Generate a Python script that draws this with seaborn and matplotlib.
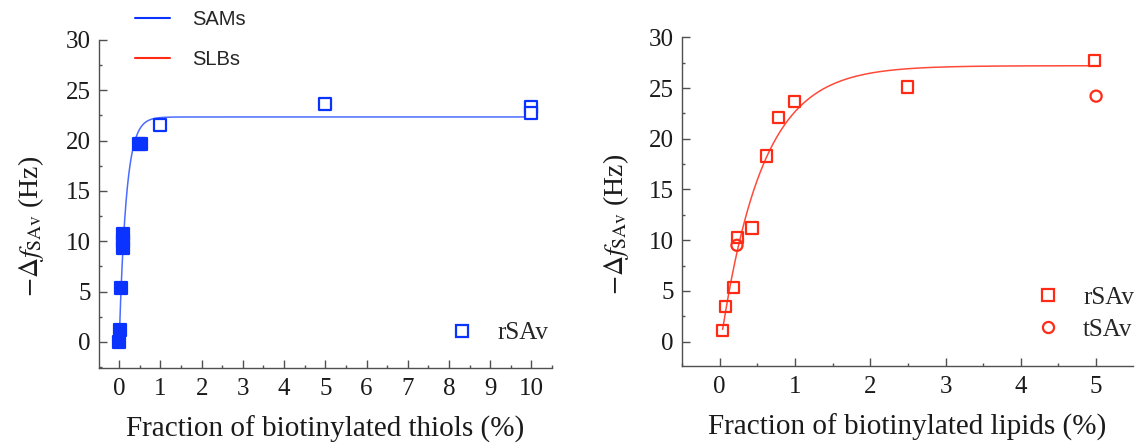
import numpy as np
import pandas as pd
import matplotlib
matplotlib.use("Agg")
import matplotlib.pyplot as plt
import seaborn as sns
from matplotlib.lines import Line2D
from matplotlib.ticker import MultipleLocator

# ---------------- data ----------------
# SAMs, rSAv (left panel)
sam_open_x = [1.0, 5.0, 10.0, 10.0]
sam_open_y = [21.6, 23.6, 23.3, 22.7]
sam_dense_x = [0.0, 0.02, 0.04, 0.09, 0.09, 0.09, 0.47, 0.52]
sam_dense_y = [0.0, 1.2, 5.4, 9.3, 10.0, 10.7, 19.7, 19.7]
# SLBs (right panel)
slb_r_x = [0.04, 0.08, 0.18, 0.24, 0.43, 0.62, 0.78, 0.99, 2.49, 4.98]
slb_r_y = [1.1, 3.5, 5.3, 10.3, 11.2, 18.3, 22.1, 23.7, 25.1, 27.7]
slb_t_x = [0.23, 5.0]
slb_t_y = [9.5, 24.2]
# fitted-curve parameters (exponential saturation)
sam_fit_plateau, sam_fit_scale, sam_fit_range = 22.35, 0.17, (0.0, 10.0)
slb_fit_plateau, slb_fit_scale, slb_fit_onset, slb_fit_range = 27.2, 0.55, 0.015, (0.04, 5.0)

legend_lines = ["SAMs", "SLBs"]
legend_left = ["rSAv"]
legend_right = ["rSAv", "tSAv"]
xlabel_left = "Fraction of biotinylated thiols (%)"
xlabel_right = "Fraction of biotinylated lipids (%)"
ylabel = r"$-\Delta f_{\mathrm{SAv}}$ (Hz)"

# ---------------- style ----------------
sns.set_style("ticks")
plt.rcParams["font.family"] = ["Liberation Serif", "DejaVu Serif"]
plt.rcParams["mathtext.fontset"] = "stix"

blue_m, blue_l = "#0b33ff", "#4a6cff"
red_m, red_l = "#ff2b14", "#ff4a3a"
spine_c = "#505050"
txt_c = "#1a1a1a"
W, H = 1140, 447

fig = plt.figure(figsize=(W / 100, H / 100), dpi=100)
axL = fig.add_axes([99 / W, (H - 368) / H, (552 - 99) / W, (368 - 40) / H])
axR = fig.add_axes([682 / W, (H - 366) / H, (1133 - 682) / W, (366 - 37.3) / H])

ms_area = 64
lw_m = 1.6

# left panel
xs = np.linspace(*sam_fit_range, 600)
sns.lineplot(x=xs, y=sam_fit_plateau * (1 - np.exp(-xs / sam_fit_scale)),
             ax=axL, color=blue_l, lw=1.1, zorder=1)
sns.scatterplot(x=sam_dense_x, y=sam_dense_y, ax=axL, marker="s", s=ms_area,
                facecolor=blue_m, edgecolor=blue_m, linewidth=lw_m, zorder=3)
sns.scatterplot(x=sam_open_x, y=sam_open_y, ax=axL, marker="s", s=ms_area,
                facecolor="white", edgecolor=blue_m, linewidth=lw_m, zorder=3)

# right panel
xr = np.linspace(*slb_fit_range, 600)
sns.lineplot(x=xr, y=slb_fit_plateau * (1 - np.exp(-(xr - slb_fit_onset) / slb_fit_scale)),
             ax=axR, color=red_l, lw=1.1, zorder=1)
sns.scatterplot(x=slb_r_x, y=slb_r_y, ax=axR, marker="s", s=ms_area,
                facecolor="none", edgecolor=red_m, linewidth=lw_m, zorder=3)
sns.scatterplot(x=slb_t_x, y=slb_t_y, ax=axR, marker="o", s=ms_area,
                facecolor="none", edgecolor=red_m, linewidth=lw_m, zorder=3)

for ax, xl, xlabel in [(axL, (-0.49, 10.5), xlabel_left),
                       (axR, (-0.5, 5.49), xlabel_right)]:
    ax.set_xlim(*xl)
    ax.xaxis.set_major_locator(MultipleLocator(1))
    ax.xaxis.set_minor_locator(MultipleLocator(0.5))
    ax.yaxis.set_major_locator(MultipleLocator(5))
    ax.yaxis.set_minor_locator(MultipleLocator(2.5))
    sns.despine(ax=ax)
    for s in ["left", "bottom"]:
        ax.spines[s].set_color(spine_c)
        ax.spines[s].set_linewidth(1.0)
    ax.tick_params(which="major", direction="in", length=5.5, width=1.0,
                   color=spine_c, labelsize=18, labelcolor=txt_c)
    ax.tick_params(which="minor", direction="in", length=2.5, width=1.0, color=spine_c)
    ax.tick_params(axis="x", which="major", pad=7)
    ax.tick_params(axis="y", which="major", pad=6)
    ax.set_xlabel(xlabel, fontsize=21, color=txt_c)
    ax.set_ylabel(ylabel, fontsize=20, color=txt_c)
    ax.xaxis.set_label_coords(0.5, -0.145)

axL.set_ylim(-2.6, 30)
axR.set_ylim(-2.4, 30)
axL.yaxis.set_label_coords(-0.117, 0.43)
axR.yaxis.set_label_coords(-0.112, 0.43)
axL.set_xticks(range(0, 11))
axR.set_xticks(range(0, 6))

# legends
fig.legend(handles=[Line2D([], [], color=blue_m, lw=1.5), Line2D([], [], color=red_m, lw=1.5)],
           labels=legend_lines, loc="center left", bbox_to_anchor=(135 / W, 1 - 39.5 / H),
           frameon=False, borderpad=0, borderaxespad=0, handlelength=1.75,
           handletextpad=1.1, labelspacing=1.03,
           prop={"family": "Liberation Sans", "size": 14.5})

sq_b = Line2D([], [], ls="none", marker="s", ms=8, mfc="none", mec=blue_m, mew=lw_m)
fig.legend(handles=[sq_b], labels=legend_left, loc="center left",
           bbox_to_anchor=(449.5 / W, 1 - 333 / H), frameon=False, borderpad=0,
           borderaxespad=0, handlelength=1.0, handletextpad=0.9,
           prop={"family": "Liberation Serif", "size": 18})

sq_r = Line2D([], [], ls="none", marker="s", ms=8, mfc="none", mec=red_m, mew=lw_m)
ci_r = Line2D([], [], ls="none", marker="o", ms=8, mfc="none", mec=red_m, mew=lw_m)
fig.legend(handles=[sq_r, ci_r], labels=legend_right, loc="center left",
           bbox_to_anchor=(1035.5 / W, 1 - 313.5 / H), frameon=False, borderpad=0,
           borderaxespad=0, handlelength=1.0, handletextpad=0.9, labelspacing=0.4,
           prop={"family": "Liberation Serif", "size": 18})

fig.savefig("out.png", dpi=100, facecolor="white")
